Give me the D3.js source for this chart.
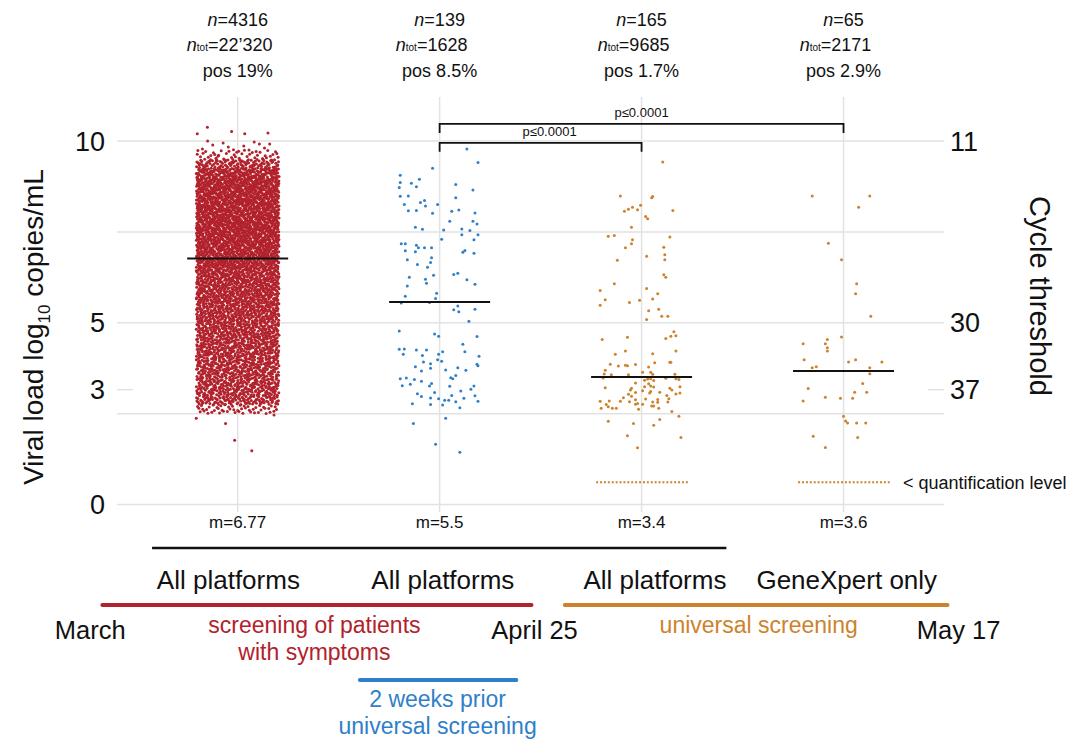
<!DOCTYPE html>
<html>
<head>
<meta charset="utf-8">
<script src="https://cdn.jsdelivr.net/npm/d3@7"></script>
<style>
  body { margin: 0; background: #fff; }
  svg { font-family: "Liberation Sans", Arial, sans-serif; }
</style>
</head>
<body>
<svg id="chart" width="1069" height="740"></svg>
<script>
// ---------------------------------------------------------------
// Data
const groups = ['symptoms', 'prior', 'universal', 'genexpert'];
const nLabels = ['4316', '139', '165', '65'];
const nTotLabels = ['22’320', '1628', '9685', '2171'];
const posLabels = ['19%', '8.5%', '1.7%', '2.9%'];
const medianValues = [6.77, 5.57, 3.51, 3.67];
const medianLabels = ['6.77', '5.5', '3.4', '3.6'];
const platformLabels = ['All platforms', 'All platforms', 'All platforms', 'GeneXpert only'];

// group 1 is too dense to read point by point: counts per log bin [lo, hi, n]
const cloudBins = [
  [2.5, 2.75, 50], [2.75, 3.0, 120], [3.0, 3.5, 245], [3.5, 4.0, 255], [4.0, 4.5, 265],
  [4.5, 5.0, 275], [5.0, 5.5, 285], [5.5, 6.0, 300], [6.0, 6.5, 320], [6.5, 7.0, 345],
  [7.0, 7.5, 375], [7.5, 8.0, 385], [8.0, 8.5, 380], [8.5, 9.0, 375], [9.0, 9.25, 165],
  [9.25, 9.5, 110], [9.5, 9.75, 40], [9.75, 10.0, 12]
];
// [jitter (% of half band), log10 copies/mL]
const symptomsOutliers = [
  [-30, 10.38], [-40, 10.2], [-6, 10.26], [7, 10.2], [30, 10.22],
  [-41, 2.37], [-12, 2.23], [-3, 1.77], [14, 1.48], [36, 2.46]
];
const priorPoints = [
  [27, 9.78], [38, 9.41], [-7, 9.25], [-39, 9.06], [-20, 8.95], [-39, 8.86], [-28, 8.84], [16, 8.8],
  [-23, 8.74], [-40, 8.72], [33, 8.65], [-39, 8.48], [-31, 8.49], [16, 8.44], [-15, 8.36], [-19, 8.31],
  [-35, 8.25], [-2, 8.25], [-14, 8.21], [-31, 8.08], [-23, 8.09], [-7, 8.01], [12, 8.07], [19, 8.1],
  [35, 8.02], [10, 7.79], [33, 7.79], [37, 7.72], [-24, 7.63], [-17, 7.57], [4, 7.55], [22, 7.58],
  [30, 7.54], [22, 7.42], [38, 7.42], [2, 7.3], [34, 7.28], [-38, 7.17], [-34, 7.17], [-23, 7.13],
  [-21, 7.06], [-15, 7.06], [-8, 7.06], [-34, 6.98], [-24, 6.95], [25, 6.99], [23, 6.94], [34, 6.91],
  [-8, 6.79], [-32, 6.73], [-9, 6.66], [-22, 6.6], [-12, 6.53], [-6, 6.31], [14, 6.33], [18, 6.36],
  [-30, 6.25], [-14, 6.2], [27, 6.18], [-13, 6.09], [35, 6.06], [-32, 6.01], [-3, 5.81], [-34, 5.73],
  [-4, 5.67], [-38, 5.54], [-10, 5.56], [18, 5.46], [14, 5.36], [19, 5.3], [35, 5.37], [29, 5.04],
  [-40, 4.77], [-5, 4.69], [-1, 4.63], [37, 4.62], [23, 4.41], [-40, 4.27], [-35, 4.28], [-23, 4.25],
  [-13, 4.25], [3, 4.2], [25, 4.2], [-36, 4.13], [-17, 4.1], [-1, 4.13], [39, 4.08], [-2, 3.98],
  [2, 3.94], [-16, 3.92], [-9, 3.87], [37, 3.86], [38, 3.82], [-24, 3.79], [-9, 3.75], [18, 3.76],
  [-18, 3.67], [6, 3.7], [26, 3.69], [16, 3.55], [-39, 3.46], [-33, 3.48], [-25, 3.44], [-18, 3.39],
  [-8, 3.33], [11, 3.49], [13, 3.46], [-37, 3.27], [-29, 3.31], [-10, 3.26], [10, 3.25], [34, 3.26],
  [31, 3.17], [21, 3.12], [-22, 3.05], [-5, 3.08], [12, 3.0], [35, 2.99], [-18, 2.97], [-9, 2.93],
  [-1, 2.91], [5, 2.87], [9, 2.87], [24, 2.92], [16, 2.83], [38, 2.84], [-27, 2.77], [-9, 2.75],
  [3, 2.74], [20, 2.66], [6, 2.37], [-26, 2.23], [-4, 1.66], [20, 1.44]
];
const universalPoints = [
  [21, 9.42], [-21, 8.49], [10, 8.44], [11, 8.47], [-1, 8.23], [-9, 8.18], [-13, 8.12], [-17, 8.07],
  [-4, 8.11], [31, 8.09], [4, 7.92], [6, 7.86], [-10, 7.63], [-33, 7.38], [-27, 7.4], [-9, 7.28],
  [-10, 7.17], [28, 7.36], [-16, 7.06], [22, 7.08], [23, 6.87], [5, 6.83], [23, 6.73], [-24, 6.72],
  [-27, 6.07], [22, 6.32], [24, 6.25], [-41, 5.89], [5, 5.94], [16, 5.8], [-36, 5.63], [11, 5.65],
  [-41, 5.48], [-12, 5.56], [-2, 5.62], [17, 5.37], [7, 5.33], [20, 5.18], [26, 5.18], [5, 5.09],
  [32, 4.75], [34, 4.64], [29, 4.63], [24, 4.57], [-39, 4.54], [-14, 4.6], [34, 4.22], [-26, 4.13],
  [11, 4.15], [-16, 4.22], [28, 3.91], [29, 3.91], [13, 3.9], [-31, 3.86], [-23, 3.81], [-16, 3.83],
  [-14, 3.82], [-6, 3.85], [7, 3.78], [-36, 3.69], [-37, 3.59], [-30, 3.57], [1, 3.64], [9, 3.64],
  [11, 3.58], [-13, 3.57], [33, 3.58], [-38, 3.48], [24, 3.47], [34, 3.46], [37, 3.44], [3, 3.42],
  [6, 3.45], [9, 3.46], [12, 3.41], [7, 3.32], [-6, 3.34], [3, 3.24], [9, 3.26], [12, 3.23],
  [-36, 3.21], [-10, 3.2], [-11, 3.15], [28, 3.2], [30, 3.15], [38, 3.24], [1, 3.13], [9, 3.11],
  [8, 3.07], [18, 3.09], [-6, 3.08], [-13, 3.03], [-10, 2.98], [34, 3.04], [38, 3.07], [25, 3.0],
  [-18, 2.94], [27, 2.91], [-6, 2.88], [4, 2.9], [16, 2.89], [-41, 2.84], [-32, 2.85], [-21, 2.84],
  [-12, 2.83], [-4, 2.78], [11, 2.82], [16, 2.81], [26, 2.82], [-35, 2.75], [-33, 2.69], [-6, 2.76],
  [1, 2.76], [10, 2.71], [12, 2.71], [-40, 2.65], [-29, 2.65], [-25, 2.65], [-3, 2.62], [17, 2.65],
  [30, 2.56], [37, 2.43], [18, 2.34], [-33, 2.29], [-8, 2.23], [12, 2.18], [-14, 1.89], [39, 1.84],
  [-4, 1.56]
];
const genexpertPoints = [
  [-31, 8.49], [26, 8.49], [15, 8.18], [-15, 7.19], [-2, 6.73], [13, 6.07], [12, 5.8], [27, 5.18],
  [-2, 4.61], [-16, 4.54], [-40, 4.42], [-18, 4.42], [-16, 4.31], [-16, 4.22], [-39, 3.98], [5, 3.92],
  [12, 3.98], [38, 3.92], [-31, 3.76], [-27, 3.79], [26, 3.76], [26, 3.6], [19, 3.33], [-35, 3.19],
  [11, 3.09], [23, 3.09], [-18, 2.95], [-3, 2.92], [9, 2.92], [-40, 2.85], [0, 2.43], [2, 2.3],
  [4, 2.24], [13, 2.24], [22, 2.24], [-30, 1.88], [14, 1.84], [-18, 1.57]
];
const quantLevel = 0.61;            // values below quantification drawn here
const quantGroups = ['universal', 'genexpert'];

const leftTicks = [0, 5, 10];
const ctTicks = [11, 30, 37];       // cycle threshold
const gridValues = [0, 2.5, 5, 7.5, 10];
const comparisons = [
  {from: 'prior', to: 'universal', level: 9.95, label: 'p≤0.0001'},
  {from: 'prior', to: 'genexpert', level: 10.47, label: 'p≤0.0001'}
];

// ---------------------------------------------------------------
const red = '#b2222c', blue = '#2f80c8', orange = '#cd832c';
const groupColors = [red, blue, orange, orange];

const svg = d3.select('#chart');
const x = d3.scaleBand().domain(groups).range([136.7, 944.5]);
const cx = g => x(g) + x.bandwidth() / 2;
const y = d3.scaleLinear().domain([0, 10]).range([504.5, 141]);
// Ct -> log10 copies (11 -> 10, 30 -> 5)
const ctToLog = d3.scaleLinear().domain([11, 30]).range([10, 5]);
const jitter = d3.scaleLinear().domain([-100, 100]).range([-x.bandwidth() / 2, x.bandwidth() / 2]);
// timeline in band units
const t = d3.scaleLinear().domain([0, 4]).range(x.range());

const grid_color = '#e2e2e2';
const plotLeft = 117, plotRight = 944;

// gridlines
svg.append('g').selectAll('line.h')
  .data(gridValues).join('line')
  .attr('x1', plotLeft).attr('x2', plotRight)
  .attr('y1', d => y(d)).attr('y2', d => y(d))
  .attr('stroke', grid_color).attr('stroke-width', 1.5);

svg.append('g').selectAll('line.v')
  .data(groups).join('line')
  .attr('x1', cx).attr('x2', cx)
  .attr('y1', 97).attr('y2', 512)
  .attr('stroke', grid_color).attr('stroke-width', 1.5);

// short ticks at Ct 37
[[plotLeft, plotLeft + 16], [plotRight - 16, plotRight]].forEach(([a, b]) => {
  svg.append('line')
    .attr('x1', a).attr('x2', b)
    .attr('y1', y(ctToLog(37))).attr('y2', y(ctToLog(37)))
    .attr('stroke', grid_color).attr('stroke-width', 1.5);
});

// axis labels
const leftLab = svg.append('g').attr('font-size', 27).attr('fill', '#111').attr('text-anchor', 'end');
leftTicks.forEach(v => leftLab.append('text').attr('x', 105).attr('y', y(v)).attr('dy', '0.36em').text(v));
leftLab.append('text').attr('x', 105).attr('y', y(ctToLog(37))).attr('dy', '0.36em').text('3');

const rightLab = svg.append('g').attr('font-size', 27).attr('fill', '#111').attr('text-anchor', 'start');
ctTicks.forEach(c => rightLab.append('text').attr('x', 950).attr('y', y(ctToLog(c))).attr('dy', '0.36em').text(c));

const ylab = svg.append('text')
  .attr('transform', 'translate(43,327) rotate(-90)')
  .attr('text-anchor', 'middle').attr('font-size', 28).attr('fill', '#111');
ylab.append('tspan').text('Viral load log');
ylab.append('tspan').attr('font-size', 17).attr('dy', 7).text('10');
ylab.append('tspan').attr('dy', -7).text(' copies/mL');

svg.append('text')
  .attr('transform', 'translate(1030,296) rotate(90)')
  .attr('text-anchor', 'middle').attr('font-size', 29).attr('fill', '#111')
  .text('Cycle threshold');

// ---------------------------------------------------------------
// points
const pts = svg.append('g');

// dense cloud: binned counts spread evenly with a Halton (2,3) fill
const halton = (i, b) => { let f = 1, r = 0; while (i > 0) { f /= b; r += f * (i % b); i = Math.floor(i / b); } return r; };
const cloud = [];
let k = 1;
cloudBins.forEach(([lo, hi, count]) => {
  for (let i = 0; i < count; i++, k++) {
    cloud.push([(halton(k, 2) * 2 - 1) * 41, lo + halton(k, 3) * (hi - lo)]);
  }
});

const series = [
  {g: 'symptoms', pts: cloud.concat(symptomsOutliers)},
  {g: 'prior', pts: priorPoints},
  {g: 'universal', pts: universalPoints},
  {g: 'genexpert', pts: genexpertPoints}
];

series.forEach((s, i) => {
  pts.append('g').selectAll('circle')
    .data(s.pts).join('circle')
    .attr('cx', d => cx(s.g) + jitter(d[0]))
    .attr('cy', d => y(d[1]))
    .attr('r', 1.5)
    .attr('fill', groupColors[i]);
});

// below quantification
svg.append('g').selectAll('line')
  .data(quantGroups).join('line')
  .attr('x1', g => cx(g) + jitter(-45)).attr('x2', g => cx(g) + jitter(46))
  .attr('y1', y(quantLevel)).attr('y2', y(quantLevel))
  .attr('stroke', orange).attr('stroke-width', 2)
  .attr('stroke-dasharray', '2,1.9');

svg.append('text')
  .attr('x', 903).attr('y', y(quantLevel)).attr('dy', '0.35em')
  .attr('font-size', 18).attr('fill', '#111')
  .text('< quantification level');

// medians
svg.append('g').selectAll('line')
  .data(groups).join('line')
  .attr('x1', g => cx(g) + jitter(-50)).attr('x2', g => cx(g) + jitter(50))
  .attr('y1', (g, i) => y(medianValues[i])).attr('y2', (g, i) => y(medianValues[i]))
  .attr('stroke', '#111').attr('stroke-width', 2);

// significance brackets
comparisons.forEach((c, i) => {
  const yy = y(c.level);
  svg.append('path')
    .attr('d', `M${cx(c.from)},${yy + 9}V${yy}H${cx(c.to)}V${yy + 9}`)
    .attr('fill', 'none').attr('stroke', '#111').attr('stroke-width', 1.8);
  svg.append('text')
    .attr('x', (cx(c.from) + cx(c.to)) / 2 + (i === 0 ? 9 : 0)).attr('y', yy - 7)
    .attr('text-anchor', 'middle').attr('font-size', 13).attr('fill', '#111')
    .text(c.label);
});

// ---------------------------------------------------------------
// header annotations
const head = svg.append('g').attr('font-size', 18).attr('fill', '#111').attr('text-anchor', 'middle');
groups.forEach((g, i) => {
  const n = head.append('text').attr('x', cx(g)).attr('y', 26);
  n.append('tspan').attr('font-style', 'italic').text('n');
  n.append('tspan').text('=' + nLabels[i]);
  const nt = head.append('text').attr('x', cx(g) - 8).attr('y', 51);
  nt.append('tspan').attr('font-style', 'italic').text('n');
  nt.append('tspan').attr('font-size', 10).text('tot');
  nt.append('tspan').text('=' + nTotLabels[i]);
  head.append('text').attr('x', cx(g)).attr('y', 77).text('pos ' + posLabels[i]);
});

// medians text
svg.append('g').selectAll('text')
  .data(groups).join('text')
  .attr('x', cx).attr('y', 528)
  .attr('text-anchor', 'middle').attr('font-size', 17).attr('fill', '#111')
  .text((g, i) => 'm=' + medianLabels[i]);

// ---------------------------------------------------------------
// bottom timeline
svg.append('line')
  .attr('x1', t(0.076)).attr('x2', t(2.92)).attr('y1', 548).attr('y2', 548)
  .attr('stroke', '#111').attr('stroke-width', 2.5);

const platformPos = [0.454, 1.516, 2.566, 3.516];
svg.append('g').selectAll('text')
  .data(platformLabels).join('text')
  .attr('x', (d, i) => t(platformPos[i])).attr('y', 589)
  .attr('text-anchor', 'middle').attr('font-size', 26).attr('fill', '#111')
  .text(d => d);

const period = (a, b, yy, color) => svg.append('line')
  .attr('x1', t(a)).attr('x2', t(b)).attr('y1', yy).attr('y2', yy)
  .attr('stroke', color).attr('stroke-width', 4).attr('stroke-linecap', 'round');
period(-0.17, 1.955, 605, red);
period(2.12, 4.015, 605, orange);
period(1.105, 1.88, 680, blue);

const dates = [['March', -0.23], ['April 25', 1.97], ['May 17', 4.07]];
dates.forEach(([txt, pos]) => svg.append('text')
  .attr('x', t(pos)).attr('y', 639).attr('text-anchor', 'middle')
  .attr('font-size', 25.5).attr('fill', '#111').text(txt));

const note = (lines, pos, y0, color) => lines.forEach((l, i) => svg.append('text')
  .attr('x', t(pos)).attr('y', y0 + i * 27).attr('text-anchor', 'middle')
  .attr('font-size', 23).attr('fill', color).text(l));
note(['screening of patients', 'with symptoms'], 0.88, 633, red);
note(['universal screening'], 3.08, 633, orange);
note(['2 weeks prior', 'universal screening'], 1.49, 707, blue);
</script>
</body>
</html>
